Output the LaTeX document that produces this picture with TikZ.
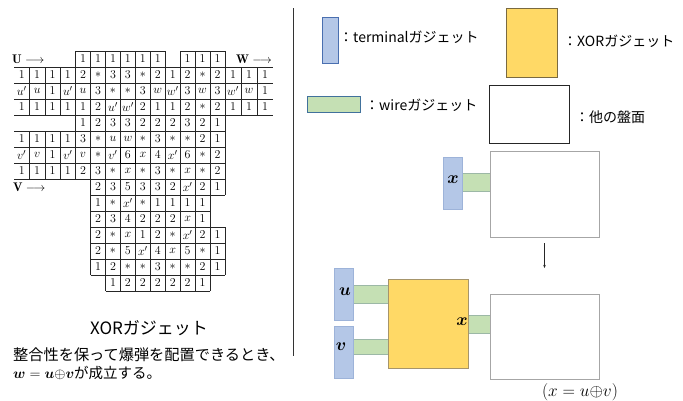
\documentclass[tikz,border=0pt]{standalone}
\usepackage{amsmath}
\usepackage{fontspec}
\usetikzlibrary{arrows.meta}
\newfontfamily\jp{Noto Sans CJK JP}
\definecolor{tfill}{HTML}{B4C7E7}
\definecolor{tborder}{HTML}{9DB3D9}
\definecolor{tborderL}{HTML}{4A6FB0}
\definecolor{wfill}{HTML}{C5E0B4}
\definecolor{wborder}{HTML}{9CB8A6}
\definecolor{wborderL}{HTML}{41719C}
\definecolor{xfill}{HTML}{FFD966}
\definecolor{xborder}{HTML}{A6956B}
\definecolor{xborderL}{HTML}{7A6A40}
\definecolor{bborder}{HTML}{A6A6A6}
\tikzset{
  gline/.style={black!85,line width=0.6pt},
  gtext/.style={inner sep=0pt,font=\fontsize{12.5}{14}\selectfont},
  shp/.style={inner sep=0pt,outer sep=0pt,anchor=north west},
  termbox/.style={shp,fill=tfill,draw=tborder,line width=0.8pt},
  wirebox/.style={shp,fill=wfill,draw=wborder,line width=0.8pt},
  xorbox/.style={shp,fill=xfill,draw=xborder,line width=0.8pt},
  boardbox/.style={shp,fill=white,draw=bborder,line width=0.8pt},
  jtext/.style={inner sep=0pt,anchor=west,font=\jp\fontsize{14}{16}\selectfont},
  mlabel/.style={inner sep=0pt,font=\fontsize{16}{18}\selectfont},
}
\def\colbounds{{14,29.4,44.8,60.2,75.6,90.5,105.5,120.4,135.4,150.3,165.2,180.2,195.1,210.1,225,241,257,273}}
\def\gy{51}\def\ch{16}
\newcommand\gridrow[3]{%
 \foreach \t [count=\i from 0] in {#3} {%
   \pgfmathtruncatemacro\cx{#2+\i}%
   \pgfmathsetmacro\xl{\colbounds[\cx]}%
   \pgfmathsetmacro\xr{\colbounds[\cx+1]}%
   \pgfmathsetmacro\yt{\gy+#1*\ch}%
   \pgfmathsetmacro\yb{\gy+(#1+1)*\ch}%
   \draw[gline] (\xl,\yt) -- (\xr,\yt) (\xl,\yb) -- (\xr,\yb);
   \ifnum\cx=0\relax\else \draw[gline] (\xl,\yt) -- (\xl,\yb);\fi
   \ifnum\cx=16\relax\else \draw[gline] (\xr,\yt) -- (\xr,\yb);\fi
   \node[gtext] (g-#1-\cx) at ({(\xl+\xr)/2},{(\yt+\yb)/2}) {$\t$};
 }}
\begin{document}
\begin{tikzpicture}[x=1pt,y=-1pt]
\useasboundingbox (0,0) rectangle (683,400);
% ---------------- grid ----------------
\gridrow{0}{4}{1,1,1,1,1,1}
\gridrow{0}{11}{1,1,1}
\gridrow{1}{0}{1,1,1,1,2,*,3,3,*,2,1,2,*,2,1,1,1}
\gridrow{2}{0}{u',u,1,u',u,3,*,*,3,w,w',3,w,3,w',w,1}
\gridrow{3}{0}{1,1,1,1,1,2,u',w',2,1,1,2,*,2,1,1,1}
\gridrow{4}{4}{1,2,3,3,2,2,2,3,2,1}
\gridrow{5}{0}{1,1,1,1,3,*,u,w,*,3,*,*,2,1}
\gridrow{6}{0}{v',v,1,v',v,*,v',6,x,4,x',6,*,2}
\gridrow{7}{0}{1,1,1,1,2,3,*,x,*,3,*,x,*,2}
\gridrow{8}{5}{2,3,5,3,3,2,x',2,1}
\gridrow{9}{5}{1,*,x',*,1,1,1,1}
\gridrow{10}{5}{2,3,4,2,2,2,x,1}
\gridrow{11}{5}{2,*,x,1,2,*,x',2,1}
\gridrow{12}{5}{2,*,5,x',4,x,5,*,1}
\gridrow{13}{5}{1,2,*,*,3,*,*,2,1}
\gridrow{14}{6}{1,2,2,2,2,2,1}
\draw[black,line width=1pt] (120.4,147) rectangle (135.4,163);
\node[gtext,anchor=west] (lU) at (12,59) {$\mathbf{U}\longrightarrow$};
\node[gtext,anchor=west] (lW) at (236,59) {$\mathbf{W}\longrightarrow$};
\node[gtext,anchor=west] (lV) at (13,187) {$\mathbf{V}\longrightarrow$};
% ---------------- captions ----------------
\node[inner sep=0pt,font=\jp\fontsize{17}{19}\selectfont] (cap) at (149,328) {XORガジェット};
\node[inner sep=0pt,anchor=west,font=\jp\fontsize{15.2}{17}\selectfont] (d1) at (13,355) {整合性を保って爆弾を配置できるとき、};
\node[inner sep=0pt,anchor=west,font=\jp\fontsize{14.5}{17}\selectfont] (d2) at (13,373) {{\fontsize{13.5}{15}\selectfont$\boldsymbol{w}=\boldsymbol{u}{\oplus}\boldsymbol{v}$}が成立する。};
% divider
\coordinate (dv1) at (293,8);
\coordinate (dv2) at (293,356);
\draw[black!80,line width=1pt] (dv1) -- (dv2);
% ---------------- legend ----------------
\node[termbox,draw=tborderL,minimum width=16pt,minimum height=46pt] (lt) at (322,17) {};
\node[jtext] (ltt) at (339,37) {：terminalガジェット};
\node[xorbox,draw=xborderL,minimum width=51pt,minimum height=69pt] (lx) at (506,8) {};
\node[jtext] (lxt) at (563,41) {：XORガジェット};
\node[wirebox,draw=wborderL,minimum width=53pt,minimum height=16pt] (lw) at (307,96) {};
\node[jtext] (lwt) at (365,105) {：wireガジェット};
\node[boardbox,draw=black!85,minimum width=80pt,minimum height=58pt] (lb) at (489,85) {};
\node[jtext] (lbt) at (575,117) {：他の盤面};
% ---------------- upper diagram ----------------
\node[wirebox,minimum width=28pt,minimum height=18pt] (w1) at (462,173) {};
\node[termbox,minimum width=19pt,minimum height=52pt] (t1) at (443,157) {};
\node[boardbox,minimum width=109pt,minimum height=86pt] (b1) at (490,151) {};
\node[mlabel] (t1x) at (453,180) {$\boldsymbol{x}$};
% ---------------- lower diagram ----------------
\node[wirebox,minimum width=35pt,minimum height=18pt] (wu) at (353,285) {};
\node[wirebox,minimum width=35pt,minimum height=15pt] (wv) at (353,339) {};
\node[wirebox,minimum width=22pt,minimum height=18pt] (wx) at (468,315) {};
\node[termbox,minimum width=19pt,minimum height=52pt] (tu) at (334,268) {};
\node[termbox,minimum width=19pt,minimum height=52pt] (tv) at (334,326) {};
\node[xorbox,minimum width=80pt,minimum height=89pt] (xo) at (388,279) {};
\node[boardbox,minimum width=109pt,minimum height=85pt] (b2) at (490,294) {};
\node[mlabel] (tuu) at (345,292) {$\boldsymbol{u}$};
\node[mlabel] (tvv) at (341,347) {$\boldsymbol{v}$};
\node[mlabel] (xox) at (462,322) {$\boldsymbol{x}$};
\node[mlabel,font=\fontsize{17.5}{19}\selectfont] (eq) at (580,392) {$(x=u{\oplus}v)$};
\draw[black!85,line width=0.6pt,-{Stealth[length=3pt,width=2.5pt]}] ([yshift=-6pt]b1.south) -- ([yshift=26pt]b2.north);
\end{tikzpicture}
\end{document}
